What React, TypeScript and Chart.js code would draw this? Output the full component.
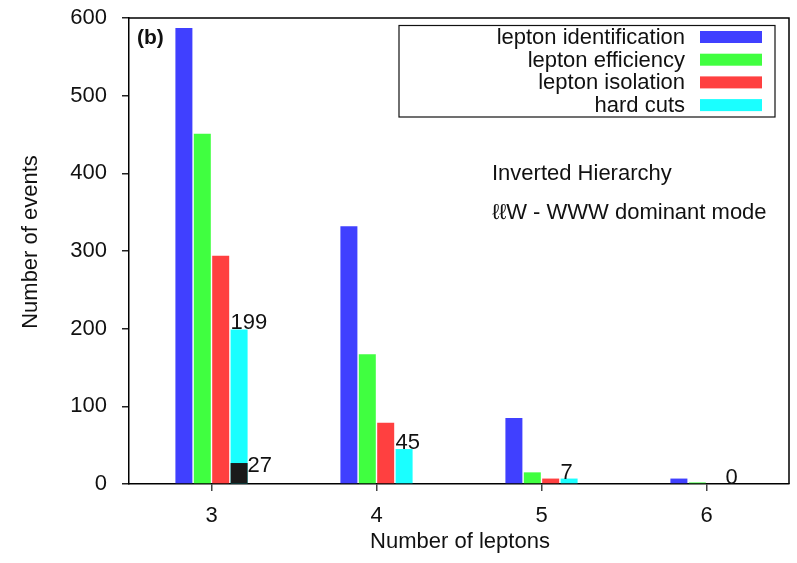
import React, { useEffect, useRef } from "react";
import { Chart, registerables } from "chart.js";

Chart.register(...registerables);

const categories = ["3", "4", "5", "6"];
const seriesNames = ["lepton identification", "lepton efficiency", "lepton isolation", "hard cuts"];
const leptonIdentification = [587, 332, 85, 7];
const leptonEfficiency = [451, 167, 15, 2];
const leptonIsolation = [294, 79, 7, 0];
const hardCuts = [199, 45, 7, 0];
const darkSubset = [27, null, null, null];
const yTicks = [0, 100, 200, 300, 400, 500, 600];
const panelLabel = "(b)";
const noteLines = ["Inverted Hierarchy", "ℓℓW - WWW dominant mode"];
const xTitle = "Number of leptons";
const yTitle = "Number of events";

const colors = ["#4040ff", "#40ff40", "#ff4040", "#1affff"];
const darkColor = "#1a1a1a";
const FONT = "'Liberation Sans', Arial, Helvetica, sans-serif";

const overlay = {
  id: "overlay",
  afterDatasetsDraw(chart: any) {
    const ctx = chart.ctx;
    ctx.save();
    ctx.fillStyle = "#111";
    ctx.font = `22px ${FONT}`;
    ctx.textAlign = "left";
    ctx.textBaseline = "alphabetic";
    const hardMeta = chart.getDatasetMeta(4);
    hardMeta.data.forEach((el: any, i: number) => {
      const v = hardCuts[i];
      if (v === null || v === undefined) return;
      const left = el.x - el.width / 2;
      ctx.fillText(String(v), left, el.y);
    });
    const darkMeta = chart.getDatasetMeta(3);
    darkMeta.data.forEach((el: any, i: number) => {
      const v = darkSubset[i];
      if (v === null || v === undefined) return;
      const right = el.x + el.width / 2;
      ctx.fillText(String(v), right, el.y + 9);
    });
    ctx.restore();
  },
  afterDraw(chart: any) {
    const ctx = chart.ctx;
    const a = chart.chartArea;
    ctx.save();
    // frame
    ctx.strokeStyle = "#000";
    ctx.lineWidth = 1.5;
    ctx.beginPath();
    ctx.moveTo(a.left, a.top);
    ctx.lineTo(a.right, a.top);
    ctx.lineTo(a.right, a.bottom);
    ctx.stroke();

    // legend
    const boxL = a.right - 390, boxR = a.right - 14, boxT = a.top + 7.5, boxB = a.top + 99;
    ctx.lineWidth = 1.2;
    ctx.strokeStyle = "#111";
    ctx.strokeRect(boxL, boxT, boxR - boxL, boxB - boxT);
    ctx.font = `22px ${FONT}`;
    ctx.textAlign = "right";
    ctx.textBaseline = "middle";
    ctx.fillStyle = "#111";
    seriesNames.forEach((name, i) => {
      const cy = a.top + 19 + i * 22.7;
      ctx.fillStyle = "#111";
      ctx.fillText(name, a.right - 104, cy + 1);
      ctx.fillStyle = colors[i];
      ctx.fillRect(a.right - 89, cy - 6, 62, 12);
    });

    // panel label
    ctx.fillStyle = "#111";
    ctx.textAlign = "left";
    ctx.font = `bold 21px ${FONT}`;
    ctx.fillText(panelLabel, a.left + 8, a.top + 20);

    // notes
    ctx.font = `22px ${FONT}`;
    ctx.fillText(noteLines[0], 492, 174);
    ctx.fillText(noteLines[1], 492, 213);

    // axis titles
    ctx.textAlign = "center";
    ctx.fillText(xTitle, (a.left + a.right) / 2 + 1, 542);
    ctx.translate(31, 242);
    ctx.rotate(-Math.PI / 2);
    ctx.fillText(yTitle, 0, 0);
    ctx.restore();
  },
};

export default function App() {
  const ref = useRef<HTMLCanvasElement>(null);
  useEffect(() => {
    const canvas = ref.current!;
    const mk = (label: string, data: (number | null)[], color: string, stack: string) => ({
      label,
      data,
      backgroundColor: color,
      borderWidth: 0,
      stack,
      categoryPercentage: 0.446,
      barPercentage: 0.924,
    });
    const chart = new Chart(canvas, {
      type: "bar",
      data: {
        labels: categories,
        datasets: [
          mk(seriesNames[0], leptonIdentification, colors[0], "a"),
          mk(seriesNames[1], leptonEfficiency, colors[1], "b"),
          mk(seriesNames[2], leptonIsolation, colors[2], "c"),
          mk("hard cuts (subset)", darkSubset, darkColor, "d"),
          mk(seriesNames[3], hardCuts, colors[3], "d"),
        ],
      },
      options: {
        responsive: false,
        animation: false,
        devicePixelRatio: 1,
        layout: { padding: { top: 18, right: 8, left: 0, bottom: 0 } },
        plugins: { legend: { display: false }, tooltip: { enabled: false } },
        scales: {
          x: {
            type: "category",
            offset: true,
            grid: { display: true, drawOnChartArea: false, offset: false, tickLength: 7, tickColor: "#444", lineWidth: 1.5 },
            border: { display: true, color: "#000", width: 1.5 },
            ticks: { color: "#111", font: { family: FONT, size: 22 }, padding: 12 },
            afterFit: (s: any) => { s.height = 79; s.paddingLeft = 0; s.paddingRight = 0; },
          },
          y: {
            type: "linear",
            stacked: false,
            min: 0,
            max: 600,
            afterBuildTicks: (s: any) => { s.ticks = yTicks.map((v) => ({ value: v })); },
            grid: { display: true, drawOnChartArea: false, tickLength: 7, tickColor: "#222", lineWidth: 1.5 },
            border: { display: true, color: "#000", width: 1.5 },
            ticks: { color: "#111", font: { family: FONT, size: 22 }, padding: 15 },
            afterFit: (s: any) => { s.width = 129; s.paddingTop = 0; s.paddingBottom = 0; },
          },
        },
      },
      plugins: [overlay],
    } as any);
    return () => chart.destroy();
  }, []);
  return (
    <div style={{ position: "absolute", left: 0, top: 0, width: 797, height: 563, background: "#fff" }}>
      <canvas ref={ref} width={797} height={563} style={{ width: 797, height: 563, display: "block" }} />
    </div>
  );
}
